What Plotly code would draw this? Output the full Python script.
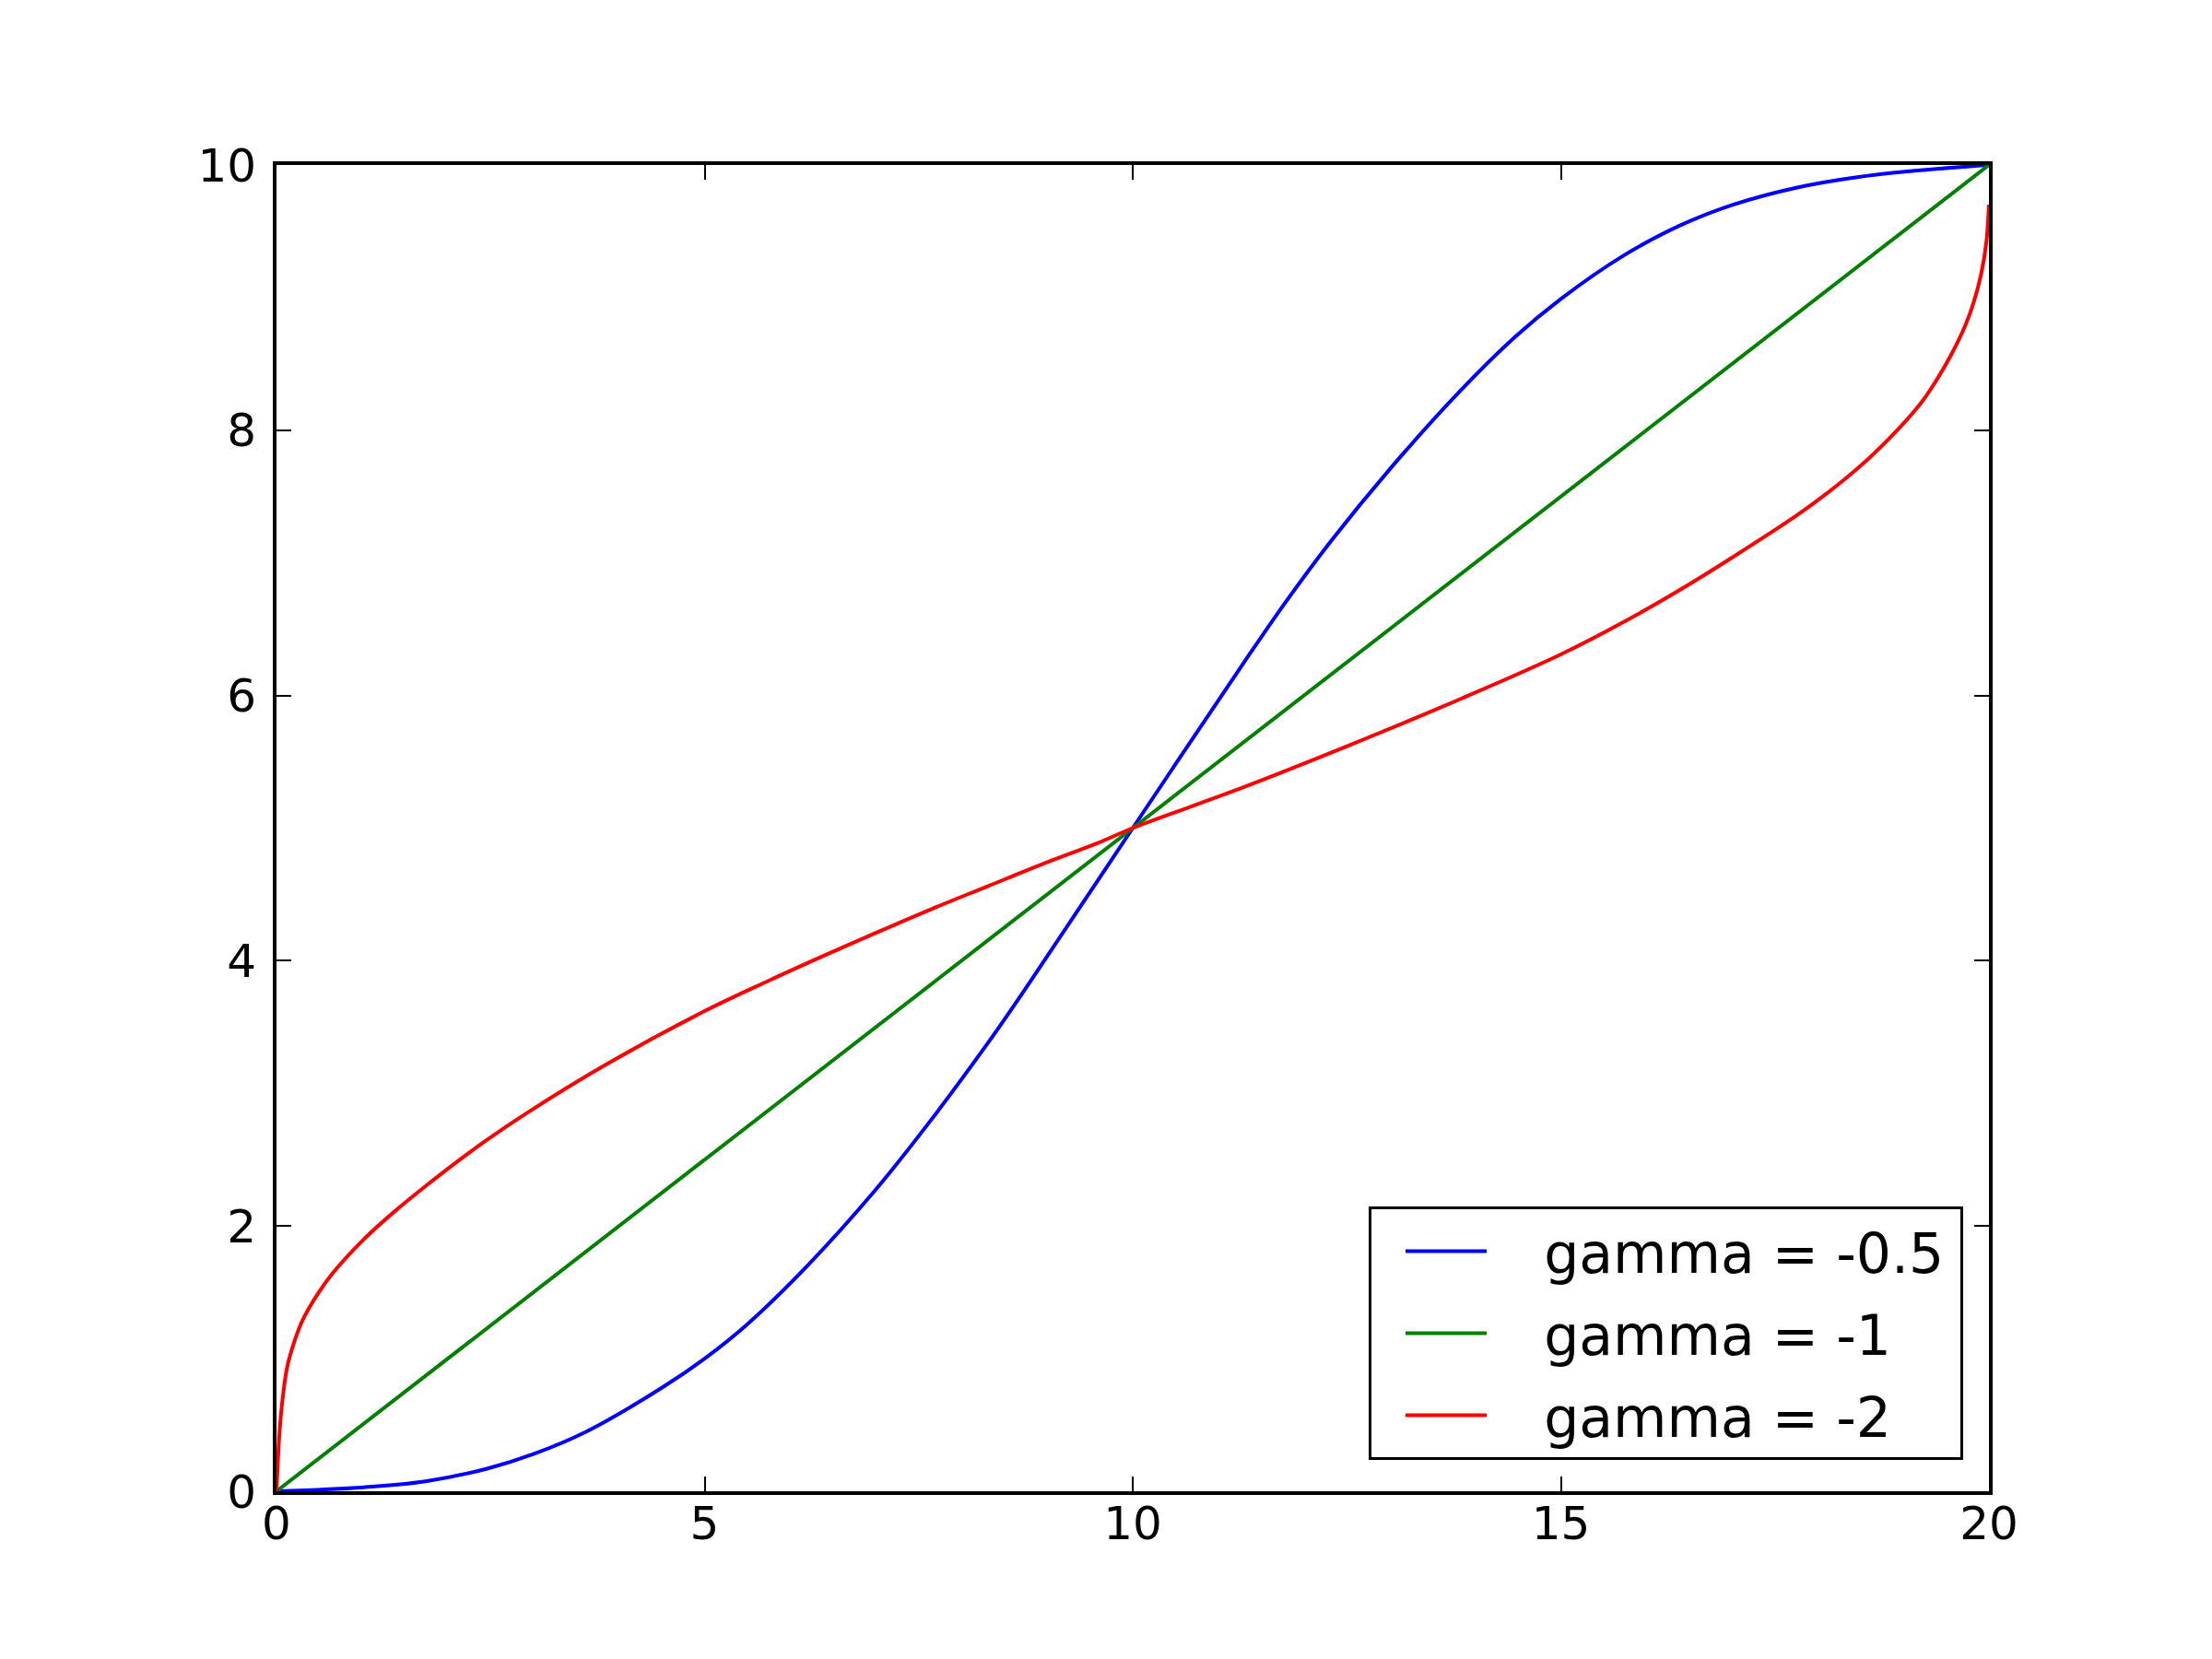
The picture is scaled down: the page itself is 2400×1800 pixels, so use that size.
import plotly.graph_objects as go

# values
blue_x = [0, 1.02, 1.74, 2.46, 3.0, 3.62, 4.5, 5.0, 5.5, 6.2, 6.98, 7.61, 8.32, 8.79,
          10, 11.3, 11.77, 12.31, 13.02, 13.83, 14.46, 15.0, 15.74, 16.38, 17.01,
          17.76, 18.48, 19.2, 20]
blue_y = [0, 0.03, 0.075, 0.17, 0.28, 0.45, 0.78, 1.0, 1.26, 1.70, 2.26, 2.77, 3.39,
          3.83, 5.0, 6.25, 6.69, 7.16, 7.72, 8.30, 8.70, 8.99, 9.32, 9.54, 9.70,
          9.83, 9.91, 9.96, 10]

green_x = [0, 20]
green_y = [0, 10]

red_x = [0, 0.036, 0.072, 0.126, 0.215, 0.305, 0.484, 0.664, 1.02, 1.38, 1.74, 2.1,
         2.46, 2.92, 3.83, 5.0, 5.75, 6.4, 7.0, 7.65, 8.3, 8.95, 9.6, 10, 11.3, 12.55,
         13.85, 15.0, 15.75, 16.4, 17.0, 17.76, 18.12, 18.48, 18.84, 19.2, 19.38,
         19.56, 19.73, 19.82, 19.91, 19.97, 20.0]
red_y = [0, 0.45, 0.70, 0.94, 1.14, 1.29, 1.49, 1.65, 1.90, 2.11, 2.30, 2.48, 2.65,
         2.85, 3.21, 3.62, 3.85, 4.04, 4.21, 4.39, 4.56, 4.73, 4.89, 5.0, 5.31, 5.63,
         5.98, 6.31, 6.56, 6.80, 7.04, 7.36, 7.53, 7.72, 7.94, 8.20, 8.37, 8.57, 8.80,
         8.96, 9.18, 9.42, 9.70]

x_ticks = [0, 5, 10, 15, 20]
y_ticks = [0, 2, 4, 6, 8, 10]

pad = "\u00a0\u00a0\u00a0"  # gap between legend line and its text
series = [
    ("gamma = -0.5", blue_x, blue_y, "#0000ff"),
    ("gamma = -1", green_x, green_y, "#008000"),
    ("gamma = -2", red_x, red_y, "#ff0000"),
]

fig = go.Figure()
for i, (name, xs, ys, color) in enumerate(series):
    label = pad + name + ("\u2009" if i == 0 else "")  # a bit of right padding in the box
    fig.add_trace(go.Scatter(
        name=label, x=xs, y=ys, mode="lines",
        line=dict(color=color, width=4, shape="spline", smoothing=1.0),
        legendgroup=name,
    ))

axis_style = dict(
    showline=True, linecolor="black", linewidth=4, mirror="ticks",
    ticks="inside", ticklen=16, tickwidth=2, tickcolor="black",
    showgrid=False, zeroline=False,
    tickfont=dict(family="DejaVu Sans", size=50, color="black"),
)

fig.update_xaxes(range=[0, 20], tickvals=x_ticks, ticklabelstandoff=-12, **axis_style)
fig.update_yaxes(range=[0, 10], tickvals=y_ticks, ticklabelstandoff=8, **axis_style)

# page body adds 8px, so margins are shifted by it
fig.update_layout(
    width=2400, height=1800,
    margin=dict(l=292, r=250, t=171, b=190),
    paper_bgcolor="white", plot_bgcolor="white",
    showlegend=True,
    legend=dict(
        x=1 - 28 / 1858, y=34 / 1439, xanchor="right", yanchor="bottom",
        bgcolor="white", bordercolor="black", borderwidth=3,
        font=dict(family="DejaVu Sans", size=60, color="black"),
        traceorder="grouped", tracegroupgap=8, itemwidth=88, indentation=32,
    ),
)

fig.write_html("out.html")
